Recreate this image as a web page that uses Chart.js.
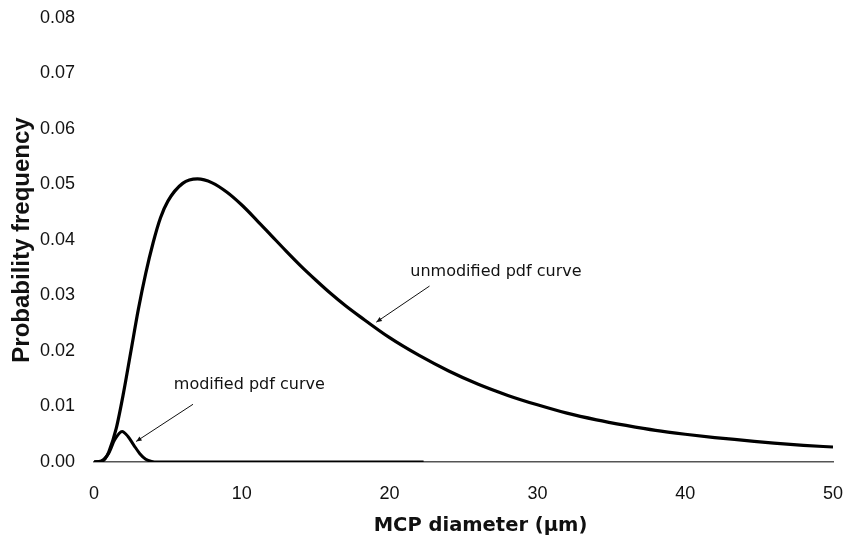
<!DOCTYPE html>
<html>
<head>
<meta charset="utf-8">
<script src="https://cdn.jsdelivr.net/npm/chart.js@4.4.1/dist/chart.umd.min.js"></script>
<style>
  body { margin: 0; background: #fff; }
  #wrap { width: 847px; height: 538px; }
</style>
</head>
<body>
<div id="wrap"><canvas id="myChart"></canvas></div>
<script>
// values
const unmodX = [0, 0.5, 0.75, 1, 1.5, 2, 2.5, 3, 3.5, 4, 4.5, 5, 6, 7, 8, 9, 10, 11, 12, 13, 14, 15, 16, 17, 18, 20, 22, 24, 26, 28, 30, 32, 34, 36, 38, 40, 42, 44, 46, 48, 50];
const unmodY = [0, 0.0001, 0.0006, 0.0018, 0.0060, 0.0125, 0.0200, 0.0275, 0.0340, 0.0395, 0.0440, 0.0470, 0.0502, 0.0510, 0.0503, 0.0486, 0.0463, 0.0436, 0.0408, 0.0380, 0.0353, 0.0328, 0.0304, 0.0282, 0.0262, 0.0224, 0.0192, 0.0164, 0.0140, 0.0120, 0.0103, 0.0088, 0.0076, 0.0066, 0.0057, 0.0050, 0.0044, 0.0039, 0.0034, 0.0030, 0.0027];

const modX = [0, 0.5, 1.0, 1.4, 1.9, 2.3, 2.7, 3.1, 3.5, 3.9, 4.3, 22.3];
const modY = [0, 0.0002, 0.0016, 0.0040, 0.0055, 0.0046, 0.0030, 0.0015, 0.0005, 0.0001, 0, 0];

const xTitle = "MCP diameter (\u00b5m)";
const yTitle = "Probability frequency";

// annotation labels with arrows (data coordinates)
const notes = [
    { text: "unmodified pdf curve", tx: 21.4, ty: 0.0343, x1: 22.7, y1: 0.0317, x2: 19.1, y2: 0.0252 },
    { text: "modified pdf curve", tx: 5.4, ty: 0.0139, x1: 6.7, y1: 0.0104, x2: 2.85, y2: 0.0037 }
];

function toPoints(xs, ys) {
    let pts = [];
    for (let i = 0; i < xs.length; i++) {
        pts.push({ x: xs[i], y: ys[i] });
    }
    return pts;
}

const notePlugin = {
    id: 'notes',
    afterDatasetsDraw(chart) {
        const ctx = chart.ctx;
        const xs = chart.scales.x, ys = chart.scales.y;
        const area = chart.chartArea;
        ctx.save();
        ctx.font = '16px "DejaVu Sans"';
        ctx.fillStyle = '#111';
        ctx.strokeStyle = '#111';
        ctx.lineWidth = 1;
        ctx.textBaseline = 'middle';
        notes.forEach(n => {
            ctx.fillText(n.text, xs.getPixelForValue(n.tx), ys.getPixelForValue(n.ty));
            const ax = xs.getPixelForValue(n.x1), ay = ys.getPixelForValue(n.y1);
            const bx = xs.getPixelForValue(n.x2), by = ys.getPixelForValue(n.y2);
            ctx.beginPath();
            ctx.moveTo(ax, ay);
            ctx.lineTo(bx, by);
            ctx.stroke();
            // small arrow head
            const ang = Math.atan2(by - ay, bx - ax);
            const len = 6;
            ctx.beginPath();
            ctx.moveTo(bx, by);
            ctx.lineTo(bx - len * Math.cos(ang - 0.4), by - len * Math.sin(ang - 0.4));
            ctx.lineTo(bx - len * Math.cos(ang + 0.4), by - len * Math.sin(ang + 0.4));
            ctx.closePath();
            ctx.fill();
        });
        // x axis title, sits a bit right of the plot centre
        ctx.font = 'bold 19.5px "DejaVu Sans"';
        ctx.textAlign = 'center';
        ctx.fillText(xTitle, (area.left + area.right) / 2 + 17, area.bottom + 64);
        ctx.restore();
    }
};

const ctx = document.getElementById('myChart').getContext('2d');
const myChart = new Chart(ctx, {
    type: 'line',
    data: {
        datasets: [
            {
                label: 'unmodified',
                data: toPoints(unmodX, unmodY),
                borderColor: '#000',
                borderWidth: 3.2,
                pointRadius: 0,
                cubicInterpolationMode: 'monotone',
                fill: false
            },
            {
                label: 'modified',
                data: toPoints(modX, modY),
                borderColor: '#000',
                borderWidth: 3,
                pointRadius: 0,
                cubicInterpolationMode: 'monotone',
                fill: false
            }
        ]
    },
    options: {
        responsive: true,
        maintainAspectRatio: false,
        animation: false,
        layout: { padding: { top: 18, right: 14, left: 0, bottom: 0 } },
        plugins: {
            legend: { display: false },
            tooltip: { enabled: false }
        },
        scales: {
            x: {
                type: 'linear',
                min: 0,
                max: 50,
                grid: { display: false, drawTicks: false },
                border: { display: true, color: '#555', width: 1.5 },
                ticks: {
                    stepSize: 10,
                    padding: 21,
                    color: '#111',
                    font: { family: '"Liberation Sans"', size: 18 },
                    maxRotation: 0
                },
                afterFit(scale) {
                    scale.height = 76;
                    scale.paddingLeft = 0;
                    scale.paddingRight = 0;
                }
            },
            y: {
                min: 0,
                max: 0.08,
                grid: { display: false, drawTicks: false },
                border: { display: false },
                ticks: {
                    stepSize: 0.01,
                    padding: 19,
                    color: '#111',
                    font: { family: '"Liberation Sans"', size: 18 },
                    callback: v => v.toFixed(2)
                },
                title: {
                    display: true,
                    text: yTitle,
                    color: '#111',
                    padding: { top: 8, bottom: 0 },
                    font: { family: '"Liberation Sans"', size: 24, weight: 'bold' }
                },
                afterFit(scale) {
                    scale.width = 94;
                    scale.paddingTop = 0;
                    scale.paddingBottom = 0;
                }
            }
        }
    },
    plugins: [notePlugin]
});
</script>
</body>
</html>
